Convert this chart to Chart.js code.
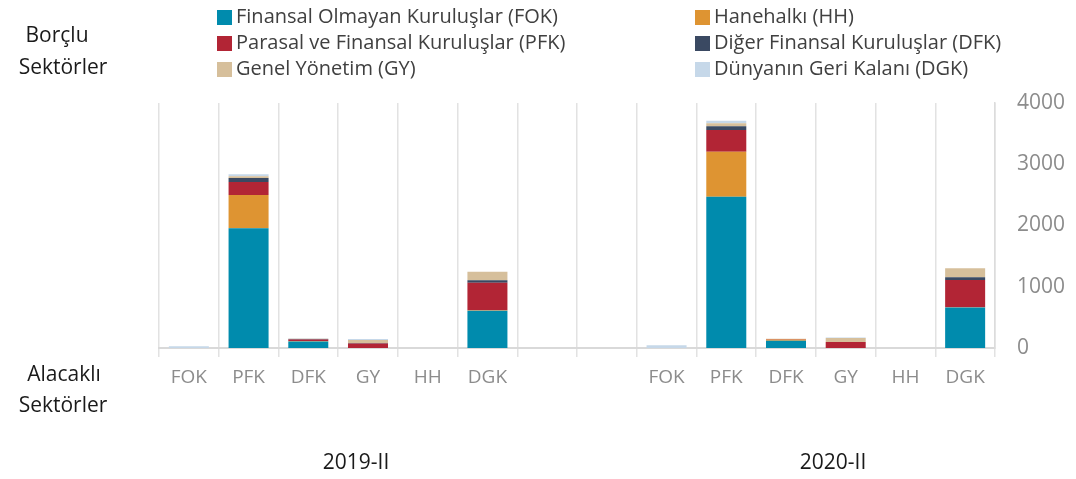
<!DOCTYPE html>
<html>
<head>
<meta charset="utf-8">
<script src="https://cdn.jsdelivr.net/npm/chart.js@4"></script>
<style>
  html, body { margin: 0; padding: 0; background: #fff; }
  #wrap { width: 1076px; height: 479px; position: relative; }
</style>
</head>
<body>
<div id="wrap"><canvas id="chart"></canvas></div>
<script>
// Alacaklı sektörler (x), 2019-II and 2020-II groups with two empty gaps
const categories = ['FOK', 'PFK', 'DFK', 'GY', 'HH', 'DGK', '', '', 'FOK', 'PFK', 'DFK', 'GY', 'HH', 'DGK'];
const yTicks = [0, 1000, 2000, 3000, 4000];
const groupLabels = ['2019-II', '2020-II'];

// Borçlu sektörler (stacked series)
const seriesNames = [
  'Finansal Olmayan Kuruluşlar (FOK)',
  'Hanehalkı (HH)',
  'Parasal ve Finansal Kuruluşlar (PFK)',
  'Diğer Finansal Kuruluşlar (DFK)',
  'Genel Yönetim (GY)',
  'Dünyanın Geri Kalanı (DGK)'
];
const fokValues = [0, 1955, 105, 0, 0, 610, 0, 0, 0, 2470, 120, 0, 0, 660];
const hhValues  = [0, 545, 10, 0, 0, 5, 0, 0, 0, 735, 20, 0, 0, 5];
const pfkValues = [0, 210, 25, 75, 0, 450, 0, 0, 0, 355, 5, 100, 0, 445];
const dfkValues = [0, 65, 5, 5, 0, 40, 0, 0, 0, 60, 0, 0, 0, 44];
const gyValues  = [0, 30, 5, 50, 0, 140, 0, 0, 0, 50, 5, 65, 0, 147];
const dgkValues = [30, 30, 10, 15, 0, 0, 0, 0, 45, 40, 0, 5, 0, 0];

const colors = ['#008bad', '#de9432', '#b22535', '#3a4962', '#d6bf9b', '#c6d8e9'];
const allValues = [fokValues, hhValues, pfkValues, dfkValues, gyValues, dgkValues];

const FONT = "'Open Sans', 'DejaVu Sans', sans-serif";

// legend + side texts drawn on the canvas
const extras = {
  id: 'extras',
  afterDraw(chart) {
    const ctx = chart.ctx;
    ctx.save();
    ctx.textBaseline = 'middle';

    // legend, two columns x three rows
    ctx.font = '20px ' + FONT;
    const colX = [217, 695];
    const rowY = [17, 43, 69];
    chart.data.datasets.forEach((ds, i) => {
      const x = colX[i % 2];
      const y = rowY[Math.floor(i / 2)];
      ctx.fillStyle = ds.backgroundColor;
      ctx.fillRect(x, y - 7, 15, 15);
      ctx.fillStyle = '#404040';
      ctx.textAlign = 'left';
      ctx.fillText(ds.label, x + 19, y);
    });

    ctx.fillStyle = '#1a1a1a';
    ctx.textAlign = 'center';
    ctx.font = '21px ' + FONT;
    ctx.fillText('Borçlu', 57, 36);
    ctx.fillText('Sektörler', 63, 68);
    ctx.fillText('Alacaklı', 64, 375);
    ctx.fillText('Sektörler', 63, 406);

    ctx.fillText(groupLabels[0], 356, 463);
    ctx.fillText(groupLabels[1], 833, 463);
    ctx.restore();
  }
};

new Chart(document.getElementById('chart'), {
  type: 'bar',
  data: {
    labels: categories,
    datasets: allValues.map((vals, i) => ({
      label: seriesNames[i],
      data: vals,
      backgroundColor: colors[i],
      borderWidth: 0,
      barPercentage: 0.67,
      categoryPercentage: 1,
      stack: 's'
    }))
  },
  options: {
    responsive: true,
    maintainAspectRatio: false,
    animation: false,
    layout: { padding: { left: 159, top: 103, right: 0, bottom: 0 } },
    plugins: {
      legend: { display: false },
      tooltip: { enabled: false }
    },
    scales: {
      x: {
        stacked: true,
        offset: true,
        grid: {
          display: true,
          offset: true,
          color: '#e2e2e2',
          lineWidth: 1.5,
          drawTicks: true,
          tickLength: 9,
          tickColor: '#e2e2e2'
        },
        border: { display: true, color: '#d9d9d9', width: 2 },
        ticks: {
          color: '#8c8c8c',
          font: { family: FONT, size: 19 },
          padding: 9,
          autoSkip: false,
          maxRotation: 0
        },
        afterFit(scale) { scale.height = 131; }
      },
      y: {
        stacked: true,
        position: 'right',
        min: 0,
        max: 4000,
        afterBuildTicks(scale) { scale.ticks = yTicks.map(v => ({ value: v })); },
        grid: { display: false, drawTicks: false },
        border: { display: true, color: '#dcdcdc', width: 1.5 },
        ticks: {
          color: '#8c8c8c',
          font: { family: FONT, size: 21 },
          padding: 22,
          callback: v => String(v)
        },
        afterFit(scale) { scale.width = 81; }
      }
    }
  },
  plugins: [extras]
});
</script>
</body>
</html>
